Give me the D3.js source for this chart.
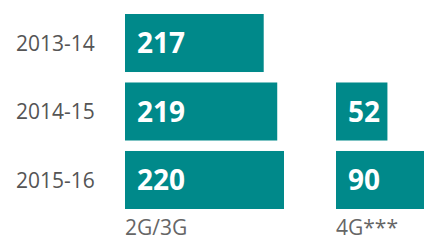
<!DOCTYPE html>
<html>
<head>
<meta charset="utf-8">
<script src="https://cdn.jsdelivr.net/npm/d3@7"></script>
<style>
  body { margin: 0; background: #fff; }
  text { font-family: "Open Sans", sans-serif; }
</style>
</head>
<body>
<div id="chart"></div>
<script>
// years down the side, two groups of bars
var years = ["2013-14", "2014-15", "2015-16"];
var groups = ["2G/3G", "4G***"];
var vals2g = [217, 219, 220];
var vals4g = [null, 52, 90];

var width = 424;
var height = 240;
var teal = "#00898a";

var svg = d3.select("#chart")
  .append("svg")
  .attr("width", width)
  .attr("height", height);

var y = d3.scaleBand()
  .domain(years)
  .range([14, 209])
  .paddingInner(0.153);

// the 2G/3G bars sit on a cut baseline, 4G from zero
var x2g = d3.scaleLinear().domain([196.5, 220]).range([0, 159]);
var x4g = d3.scaleLinear().domain([0, 90]).range([0, 89]);

var left2g = 125;
var left4g = 336;

// year labels
svg.selectAll(".year")
  .data(years)
  .enter()
  .append("text")
  .attr("class", "year")
  .attr("x", 16)
  .attr("y", function(d) { return y(d) + y.bandwidth() / 2; })
  .attr("dy", "0.36em")
  .attr("font-size", 21)
  .attr("fill", "#555")
  .text(function(d) { return d; });

function drawGroup(vals, x, left) {
  var rows = years.map(function(d, i) { return {year: d, v: vals[i]}; })
    .filter(function(d) { return d.v != null; });

  svg.selectAll(null)
    .data(rows)
    .enter()
    .append("rect")
    .attr("x", left)
    .attr("y", function(d) { return y(d.year); })
    .attr("width", function(d) { return x(d.v); })
    .attr("height", y.bandwidth())
    .attr("fill", teal);

  svg.selectAll(null)
    .data(rows)
    .enter()
    .append("text")
    .attr("x", left + 12)
    .attr("y", function(d) { return y(d.year) + y.bandwidth() / 2; })
    .attr("dy", "0.36em")
    .attr("font-size", 28)
    .attr("font-weight", "bold")
    .attr("fill", "#fff")
    .text(function(d) { return d.v; });
}

drawGroup(vals2g, x2g, left2g);
drawGroup(vals4g, x4g, left4g);

// group names under the bars
svg.selectAll(".group")
  .data(groups)
  .enter()
  .append("text")
  .attr("class", "group")
  .attr("x", function(d, i) { return i === 0 ? left2g : left4g; })
  .attr("y", 235)
  .attr("font-size", 21)
  .attr("fill", "#666")
  .text(function(d) { return d; });
</script>
</body>
</html>
